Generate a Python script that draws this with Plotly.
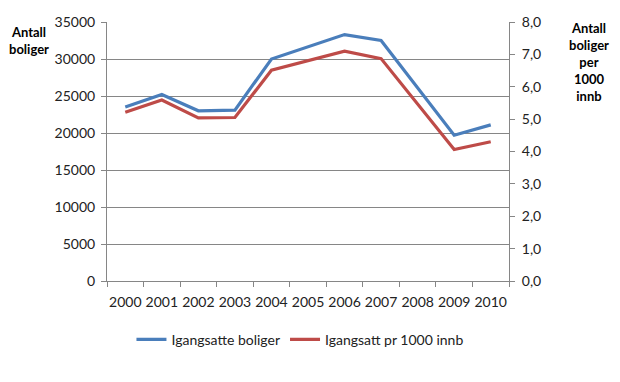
import plotly.graph_objects as go

years = ["2000", "2001", "2002", "2003", "2004", "2005", "2006", "2007", "2008", "2009", "2010"]
igangsatte_boliger = [23500, 25200, 23000, 23100, 30000, 31600, 33300, 32500, 26100, 19700, 21100]
igangsatt_pr_1000 = [5.21, 5.59, 5.04, 5.05, 6.51, 6.80, 7.10, 6.87, 5.45, 4.06, 4.30]

left_ticks = [0, 5000, 10000, 15000, 20000, 25000, 30000, 35000]
right_ticks = [0, 1, 2, 3, 4, 5, 6, 7, 8]

BLUE = "#4A7EBB"
RED = "#BE4B48"
AXIS = "#868686"
FONT = "Lato, Open Sans, sans-serif"

fig = go.Figure()
fig.add_trace(go.Scatter(x=years, y=igangsatte_boliger, name="Igangsatte boliger",
                         mode="lines", line=dict(color=BLUE, width=3.2)))
fig.add_trace(go.Scatter(x=years, y=igangsatt_pr_1000, name="Igangsatt pr 1000 innb",
                         mode="lines", line=dict(color=RED, width=3.2), yaxis="y2"))

fig.update_layout(
    width=620, height=382,
    margin=dict(l=107, r=111, t=22, b=101, autoexpand=False),
    paper_bgcolor="white", plot_bgcolor="white",
    font=dict(family=FONT, size=14, color="#222222"),
    separators=", ",
    showlegend=True,
    legend=dict(orientation="h", x=0.48, xanchor="center", y=-0.165, yanchor="top",
                font=dict(size=14), tracegroupgap=0),
    xaxis=dict(type="category", tickson="boundaries", ticks="outside", ticklen=5,
               tickcolor=AXIS, showline=True, linecolor=AXIS, linewidth=1,
               showgrid=False, range=[-0.5, 10.5], tickangle=0, automargin=False,
               ticklabelstandoff=8, tickfont=dict(size=14)),
    yaxis=dict(range=[0, 35000], tickvals=left_ticks, tickformat="d",
               showgrid=True, gridcolor=AXIS, gridwidth=1, automargin=False,
               showline=True, linecolor=AXIS, ticks="outside", ticklen=5,
               ticklabelstandoff=3,
               tickcolor=AXIS, zeroline=False, tickfont=dict(size=14)),
    yaxis2=dict(range=[0, 8], tickvals=right_ticks, tickformat=".1f",
                overlaying="y", side="right", showgrid=False, automargin=False,
                showline=True, linecolor=AXIS, ticks="outside", ticklen=5,
                ticklabelstandoff=4,
                tickcolor=AXIS, zeroline=False, tickfont=dict(size=14)),
    annotations=[
        dict(text="<b>Antall<br>boliger</b>", xref="paper", yref="paper",
             x=-0.195, y=1.0, xanchor="center", yanchor="top", showarrow=False,
             font=dict(size=13, color="#000000"), align="center"),
        dict(text="<b>Antall<br>boliger<br>per<br>1000<br>innb</b>", xref="paper", yref="paper",
             x=1.2, y=1.015, xanchor="center", yanchor="top", showarrow=False,
             font=dict(size=13, color="#000000"), align="center"),
    ],
)

fig.write_html("out.html", post_script="document.body.style.margin='0';",
               config={"displayModeBar": False})
